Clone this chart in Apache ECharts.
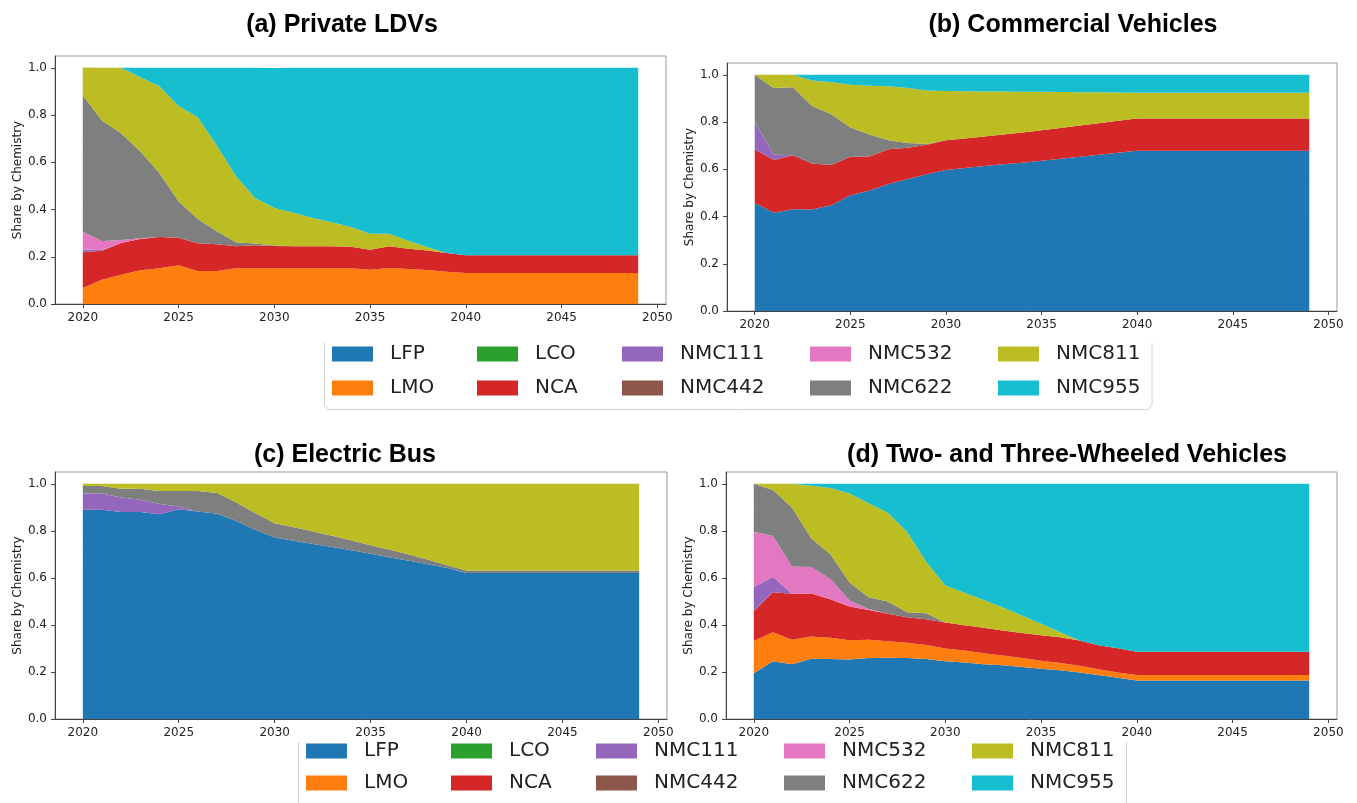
<!DOCTYPE html>
<html>
<head>
<meta charset="utf-8">
<script src="https://cdn.jsdelivr.net/npm/echarts@6/dist/echarts.min.js"></script>
<style>html,body{margin:0;padding:0;background:#fff;}#c{width:1357px;height:803px;}</style>
</head>
<body>
<div id="c"></div>
<script>
// ---------- DATA ----------
const years = [2020,2021,2022,2023,2024,2025,2026,2027,2028,2029,2030,2031,2032,2033,2034,2035,2036,2037,2038,2039,2040,2041,2042,2043,2044,2045,2046,2047,2048,2049];
const chemistries = ['LFP','LMO','LCO','NCA','NMC111','NMC442','NMC532','NMC622','NMC811','NMC955'];
const colors = ['#1f77b4','#ff7f0e','#2ca02c','#d62728','#9467bd','#8c564b','#e377c2','#7f7f7f','#bcbd22','#17becf'];
const titles = ['(a) Private LDVs','(b) Commercial Vehicles','(c) Electric Bus','(d) Two- and Three-Wheeled Vehicles'];
const xTicks = [2020,2025,2030,2035,2040,2045,2050];
const yTicks = [0,0.2,0.4,0.6,0.8,1.0];
const zeros = [0,0,0,0,0,0,0,0,0,0,0,0,0,0,0,0,0,0,0,0,0,0,0,0,0,0,0,0,0,0];

// (a) Private LDVs
const a_LFP = zeros;
const a_LMO = [0.068,0.103,0.124,0.143,0.151,0.164,0.140,0.140,0.151,0.151,0.151,0.151,0.151,0.151,0.151,0.145,0.152,0.148,0.144,0.137,0.131,0.131,0.131,0.131,0.131,0.131,0.131,0.131,0.131,0.131];
const a_LCO = zeros;
const a_NCA = [0.151,0.122,0.134,0.132,0.133,0.116,0.117,0.113,0.093,0.098,0.095,0.093,0.093,0.093,0.091,0.085,0.092,0.086,0.083,0.079,0.075,0.075,0.075,0.075,0.075,0.075,0.075,0.075,0.075,0.075];
const a_NMC111 = [0.012,0.004,0,0,0,0,0,0,0,0,0,0,0,0,0,0,0,0,0,0,0,0,0,0,0,0,0,0,0,0];
const a_NMC442 = zeros;
const a_NMC532 = [0.075,0.038,0.013,0.003,0,0,0,0,0,0,0,0,0,0,0,0,0,0,0,0,0,0,0,0,0,0,0,0,0,0];
const a_NMC622 = [0.578,0.510,0.452,0.369,0.271,0.155,0.103,0.055,0.017,0.007,0.002,0,0,0,0,0,0,0,0,0,0,0,0,0,0,0,0,0,0,0];
const a_NMC811 = [0.117,0.223,0.277,0.313,0.367,0.403,0.431,0.363,0.280,0.193,0.158,0.142,0.120,0.102,0.084,0.067,0.053,0.034,0.013,0,0,0,0,0,0,0,0,0,0,0];
const a_NMC955 = [0,0,0,0.040,0.078,0.162,0.209,0.329,0.459,0.551,0.593,0.614,0.636,0.654,0.674,0.703,0.703,0.732,0.760,0.784,0.794,0.794,0.794,0.794,0.794,0.794,0.794,0.794,0.794,0.794];

// (b) Commercial Vehicles
const b_LFP = [0.458,0.416,0.431,0.430,0.448,0.490,0.510,0.538,0.559,0.579,0.597,0.605,0.614,0.621,0.628,0.636,0.645,0.653,0.662,0.670,0.678,0.678,0.678,0.678,0.678,0.678,0.678,0.678,0.678,0.678];
const b_LMO = zeros;
const b_LCO = zeros;
const b_NCA = [0.226,0.223,0.228,0.195,0.170,0.163,0.144,0.147,0.132,0.125,0.126,0.125,0.125,0.126,0.128,0.129,0.130,0.132,0.133,0.136,0.137,0.137,0.137,0.137,0.137,0.137,0.137,0.137,0.137,0.137];
const b_NMC111 = [0.116,0.024,0,0,0,0,0,0,0,0,0,0,0,0,0,0,0,0,0,0,0,0,0,0,0,0,0,0,0,0];
const b_NMC442 = zeros;
const b_NMC532 = zeros;
const b_NMC622 = [0.200,0.281,0.288,0.243,0.215,0.124,0.093,0.038,0.020,0.003,0,0,0,0,0,0,0,0,0,0,0,0,0,0,0,0,0,0,0,0];
const b_NMC811 = [0,0.056,0.053,0.108,0.136,0.181,0.207,0.229,0.233,0.227,0.208,0.200,0.190,0.182,0.172,0.163,0.152,0.141,0.131,0.119,0.109,0.109,0.109,0.109,0.109,0.109,0.109,0.109,0.109,0.109];
const b_NMC955 = [0,0,0,0.024,0.031,0.042,0.046,0.048,0.056,0.066,0.069,0.070,0.071,0.071,0.072,0.072,0.073,0.074,0.074,0.075,0.076,0.076,0.076,0.076,0.076,0.076,0.076,0.076,0.076,0.076];

// (c) Electric Bus
const c_LFP = [0.890,0.890,0.880,0.880,0.870,0.892,0.882,0.872,0.842,0.804,0.772,0.758,0.744,0.731,0.717,0.703,0.687,0.673,0.658,0.642,0.621,0.621,0.621,0.621,0.621,0.621,0.621,0.621,0.621,0.621];
const c_LMO = zeros;
const c_LCO = zeros;
const c_NCA = zeros;
const c_NMC111 = [0.069,0.069,0.062,0.052,0.044,0.011,0,0,0,0,0,0,0,0,0,0,0,0,0,0,0,0,0,0,0,0,0,0,0,0];
const c_NMC442 = zeros;
const c_NMC532 = zeros;
const c_NMC622 = [0.031,0.031,0.037,0.047,0.055,0.066,0.087,0.089,0.078,0.071,0.060,0.057,0.053,0.048,0.042,0.036,0.033,0.026,0.019,0.012,0.010,0.010,0.010,0.010,0.010,0.010,0.010,0.010,0.010,0.010];
const c_NMC811 = [0.010,0.010,0.021,0.021,0.031,0.031,0.031,0.039,0.080,0.125,0.168,0.185,0.203,0.221,0.241,0.261,0.280,0.301,0.323,0.346,0.369,0.369,0.369,0.369,0.369,0.369,0.369,0.369,0.369,0.369];
const c_NMC955 = zeros;

// (d) Two- and Three-Wheeled Vehicles
const d_LFP = [0.195,0.245,0.233,0.256,0.255,0.253,0.259,0.260,0.259,0.255,0.246,0.240,0.233,0.228,0.221,0.214,0.207,0.198,0.187,0.175,0.164,0.164,0.164,0.164,0.164,0.164,0.164,0.164,0.164,0.164];
const d_LMO = [0.137,0.124,0.104,0.095,0.090,0.082,0.078,0.071,0.065,0.060,0.054,0.051,0.047,0.042,0.038,0.034,0.031,0.028,0.025,0.023,0.023,0.023,0.023,0.023,0.023,0.023,0.023,0.023,0.023,0.023];
const d_LCO = zeros;
const d_NCA = [0.126,0.170,0.195,0.182,0.164,0.143,0.126,0.116,0.109,0.109,0.110,0.108,0.108,0.106,0.107,0.108,0.109,0.108,0.102,0.103,0.099,0.099,0.099,0.099,0.099,0.099,0.099,0.099,0.099,0.099];
const d_NMC111 = [0.102,0.066,0,0,0,0,0,0,0,0,0,0,0,0,0,0,0,0,0,0,0,0,0,0,0,0,0,0,0,0];
const d_NMC442 = zeros;
const d_NMC532 = [0.236,0.173,0.116,0.113,0.086,0.026,0.005,0,0,0,0,0,0,0,0,0,0,0,0,0,0,0,0,0,0,0,0,0,0,0];
const d_NMC622 = [0.204,0.195,0.250,0.122,0.105,0.076,0.050,0.052,0.021,0.026,0,0,0,0,0,0,0,0,0,0,0,0,0,0,0,0,0,0,0,0];
const d_NMC811 = [0,0.027,0.102,0.224,0.282,0.379,0.399,0.378,0.342,0.219,0.157,0.138,0.118,0.098,0.074,0.049,0.022,0,0,0,0,0,0,0,0,0,0,0,0,0];
const d_NMC955 = [0,0,0,0.008,0.018,0.041,0.083,0.123,0.204,0.331,0.433,0.463,0.494,0.526,0.560,0.595,0.631,0.666,0.686,0.699,0.714,0.714,0.714,0.714,0.714,0.714,0.714,0.714,0.714,0.714];

const panelData = [
  [a_LFP,a_LMO,a_LCO,a_NCA,a_NMC111,a_NMC442,a_NMC532,a_NMC622,a_NMC811,a_NMC955],
  [b_LFP,b_LMO,b_LCO,b_NCA,b_NMC111,b_NMC442,b_NMC532,b_NMC622,b_NMC811,b_NMC955],
  [c_LFP,c_LMO,c_LCO,c_NCA,c_NMC111,c_NMC442,c_NMC532,c_NMC622,c_NMC811,c_NMC955],
  [d_LFP,d_LMO,d_LCO,d_NCA,d_NMC111,d_NMC442,d_NMC532,d_NMC622,d_NMC811,d_NMC955]
];

// ---------- LAYOUT ----------
const X_MIN = 2018.55, X_MAX = 2050.45;   // axis range incl. matplotlib margins
const frames = [
  {left:55, top:56, width:611, height:248},
  {left:727, top:63, width:610, height:248},
  {left:55, top:472, width:612, height:247},
  {left:726, top:472, width:611, height:247}
];
// inner data grids: span exactly first..last year inside each frame
const dataGrids = frames.map(f=>{
  const pxPerYear = f.width / (X_MAX - X_MIN);
  return {left: f.left + (years[0]-X_MIN)*pxPerYear, top:f.top,
          width:(years[years.length-1]-years[0])*pxPerYear, height:f.height};
});
const titlePos = [[337,8],[1068,8],[340,438],[1062,438]];
const legendBlocks = [
  {cols:[332,477,622,810,998], top:344, gap:14},
  {cols:[306,451,596,784,972], top:741, gap:12}
];

const chart = echarts.init(document.getElementById('c'), null, {renderer:'canvas'});

const option = {
  backgroundColor:'#fff',
  animation:false,
  color: colors,
  title: titles.map((t,i)=>({
    text:t, left:titlePos[i][0], top:titlePos[i][1], textAlign:'center',
    textStyle:{fontFamily:'Liberation Sans', fontWeight:'bold', fontSize:25, color:'#000'}
  })),
  grid: frames.map(g=>Object.assign({show:true, borderColor:'#9a9a9a', borderWidth:1, containLabel:false}, g))
        .concat(dataGrids.map(g=>Object.assign({show:false, containLabel:false}, g))),
  xAxis: frames.map((g,i)=>({
    gridIndex:i, type:'value', min:X_MIN, max:X_MAX, z:10,
    axisLine:{show:true, onZero:false, lineStyle:{color:'#444', width:1}},
    axisTick:{show:true, length:4, customValues:xTicks, lineStyle:{color:'#444'}},
    axisLabel:{show:true, margin:8, customValues:xTicks, fontFamily:'DejaVu Sans', fontSize:12, color:'#222', formatter:v=>String(v)},
    splitLine:{show:false}
  })).concat(dataGrids.map((g,i)=>({
    gridIndex:4+i, type:'category', data:years, boundaryGap:false, show:false,
    axisLine:{show:false}, axisTick:{show:false}, axisLabel:{show:false}, splitLine:{show:false}
  }))),
  yAxis: frames.map((g,i)=>({
    gridIndex:i, type:'value', min:0, max:1.05, z:10,
    name:'Share by Chemistry', nameLocation:'middle', nameGap:30, nameRotate:90,
    nameTextStyle:{fontFamily:'DejaVu Sans', fontSize:12, color:'#222'},
    axisLine:{show:true, lineStyle:{color:'#444', width:1}},
    axisTick:{show:true, length:4, customValues:yTicks, lineStyle:{color:'#444'}},
    axisLabel:{show:true, margin:8, customValues:yTicks, fontFamily:'DejaVu Sans', fontSize:12, color:'#222', formatter:v=>v.toFixed(1)},
    splitLine:{show:false}
  })).concat(dataGrids.map((g,i)=>({
    gridIndex:4+i, type:'value', min:0, max:1.05, show:false,
    axisLine:{show:false}, axisTick:{show:false}, axisLabel:{show:false}, splitLine:{show:false}
  }))),
  legend: [],
  series: [],
  graphic: [
    {type:'polyline', shape:{points:[[324.5,343],[324.5,405],[328.5,409.5],[1148,409.5],[1152,405],[1152,343]]}, style:{stroke:'#d2d2d2', lineWidth:1, fill:null}, z:100},
    {type:'polyline', shape:{points:[[298.5,742],[298.5,803]]}, style:{stroke:'#d2d2d2', lineWidth:1}, z:100},
    {type:'polyline', shape:{points:[[1126.5,742],[1126.5,803]]}, style:{stroke:'#d2d2d2', lineWidth:1}, z:100}
  ]
};

panelData.forEach((arrs,p)=>{
  arrs.forEach((vals,k)=>{
    option.series.push({
      name: chemistries[k], type:'line', xAxisIndex:4+p, yAxisIndex:4+p,
      stack:'panel'+p, symbol:'none', showSymbol:false, smooth:false,
      lineStyle:{width:0, color:colors[k]},
      itemStyle:{color:colors[k]},
      areaStyle:{color:colors[k], opacity:1},
      emphasis:{disabled:true},
      data: vals
    });
  });
});

legendBlocks.forEach(b=>{
  b.cols.forEach((x,c)=>{
    option.legend.push({
      orient:'vertical', left:x, top:b.top, padding:0,
      itemWidth:41, itemHeight:15, itemGap:b.gap,
      icon:'rect', selectedMode:false,
      data:[chemistries[c*2], chemistries[c*2+1]],
      itemStyle:{borderWidth:0},
      textStyle:{fontFamily:'DejaVu Sans', fontSize:20, color:'#222', lineHeight:20, padding:[0,0,0,12]}
    });
  });
});

chart.setOption(option);
</script>
</body>
</html>
